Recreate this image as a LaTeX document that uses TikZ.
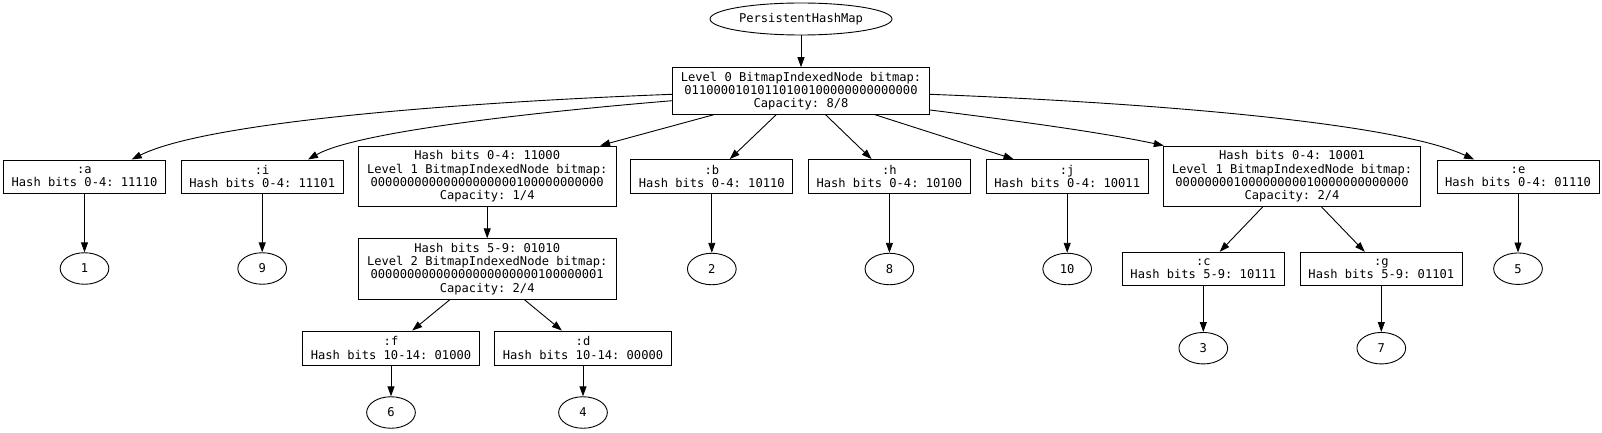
\documentclass[tikz,border=0pt]{standalone}
\usepackage{fontspec}
\setmonofont{DejaVu Sans Mono}
\usetikzlibrary{arrows.meta,shapes.geometric}
\begin{document}
\begin{tikzpicture}[x=1pt,y=-1pt,
  every node/.style={font=\ttfamily\fontsize{12.1}{13.2}\selectfont},
  box/.style={draw, rectangle, inner sep=0pt, align=center, line width=0.9pt},
  leaf/.style={box, minimum width=162pt, minimum height=33.5pt},
  leafw/.style={box, minimum width=176.7pt, minimum height=34pt},
  lvl/.style={box, minimum width=257.5pt, minimum height=60.5pt},
  lvlz/.style={box, minimum width=257pt, minimum height=46.6pt},
  val/.style={draw, ellipse, inner sep=0pt, minimum width=48.7pt, minimum height=31.5pt, line width=0.9pt},
  rootnode/.style={draw, ellipse, inner sep=0pt, minimum width=182pt, minimum height=32pt, line width=0.9pt},
  edge/.style={-{Triangle[length=10pt,width=7pt]}, line width=0.9pt}
]
\useasboundingbox (0,0) rectangle (1602,433);

\node[rootnode] (root) at (801,19) {PersistentHashMap};
\node[lvlz] (L0) at (801,91) {Level 0 BitmapIndexedNode bitmap:\\01100001010110100100000000000000\\Capacity: 8/8};

\node[leaf] (a) at (84.5,176.7) {:a\\Hash bits 0-4: 11110};
\node[leaf] (i) at (262.2,176.7) {:i\\Hash bits 0-4: 11101};
\node[lvl] (L1a) at (487.2,176.3) {Hash bits 0-4: 11000\\Level 1 BitmapIndexedNode bitmap:\\00000000000000000000100000000000\\Capacity: 1/4};
\node[leaf] (b) at (711.8,176.3) {:b\\Hash bits 0-4: 10110};
\node[leaf] (h) at (889.4,176.3) {:h\\Hash bits 0-4: 10100};
\node[leaf] (j) at (1067.2,176.3) {:j\\Hash bits 0-4: 10011};
\node[lvl] (L1b) at (1292,176.3) {Hash bits 0-4: 10001\\Level 1 BitmapIndexedNode bitmap:\\00000000100000000010000000000000\\Capacity: 2/4};
\node[leaf] (e) at (1518,176.7) {:e\\Hash bits 0-4: 01110};

\node[val] (n1) at (84.5,268.5) {1};
\node[val] (n9) at (262.2,268.5) {9};
\node[lvl] (L2) at (487.2,269) {Hash bits 5-9: 01010\\Level 2 BitmapIndexedNode bitmap:\\00000000000000000000000100000001\\Capacity: 2/4};
\node[val] (n2) at (711.8,269) {2};
\node[val] (n8) at (889.4,269) {8};
\node[val] (n10) at (1067.2,269) {10};
\node[leaf] (c) at (1203.3,269) {:c\\Hash bits 5-9: 10111};
\node[leaf] (g) at (1381.3,269) {:g\\Hash bits 5-9: 01101};
\node[val] (n5) at (1518,268.7) {5};

\node[leafw] (f) at (391,348) {:f\\Hash bits 10-14: 01000};
\node[leafw] (d) at (583,348) {:d\\Hash bits 10-14: 00000};
\node[val] (n3) at (1203.3,348.2) {3};
\node[val] (n7) at (1381.3,348.2) {7};

\node[val] (n6) at (391,412.5) {6};
\node[val] (n4) at (583,412.5) {4};

% edges
\draw[edge] (root) -- (L0);
\draw[edge] ([yshift=-3.3pt]L0.west) .. controls (420,104) and (200,125) .. ([xshift=47.2pt]a.north);
\draw[edge] ([yshift=-9.7pt]L0.west) .. controls (560,110) and (360,130) .. ([xshift=45.8pt]i.north);
\draw[edge] (L0) -- (L1a);
\draw[edge] (L0) -- (b);
\draw[edge] (L0) -- (h);
\draw[edge] (L0) -- (j);
\draw[edge] ([yshift=-19pt]L0.east) .. controls (1010,120) and (1100,132) .. ([xshift=1pt]L1b.north west);
\draw[edge] ([yshift=-3.3pt]L0.east) .. controls (1180,104) and (1400,125) .. ([xshift=-44pt]e.north);

\draw[edge] (a) -- (n1);
\draw[edge] (i) -- (n9);
\draw[edge] (L1a) -- (L2);
\draw[edge] (b) -- (n2);
\draw[edge] (h) -- (n8);
\draw[edge] (j) -- (n10);
\draw[edge] (L1b) -- (c);
\draw[edge] (L1b) -- (g);
\draw[edge] (e) -- (n5);

\draw[edge] (L2) -- (f);
\draw[edge] (L2) -- (d);
\draw[edge] (c) -- (n3);
\draw[edge] (g) -- (n7);
\draw[edge] (f) -- (n6);
\draw[edge] (d) -- (n4);
\end{tikzpicture}
\end{document}
